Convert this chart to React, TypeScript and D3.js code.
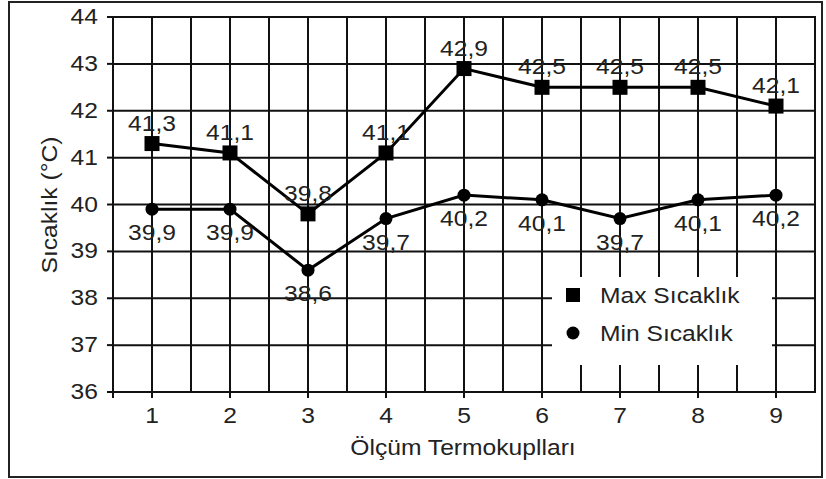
import React, { useRef, useEffect } from "react";
import * as d3 from "d3";

const W = 826;
const H = 479;

const CATEGORIES = [1, 2, 3, 4, 5, 6, 7, 8, 9];
const MAX_TEMP = [41.3, 41.1, 39.8, 41.1, 42.9, 42.5, 42.5, 42.5, 42.1];
const MIN_TEMP = [39.9, 39.9, 38.6, 39.7, 40.2, 40.1, 39.7, 40.1, 40.2];
const Y_TICKS = [36, 37, 38, 39, 40, 41, 42, 43, 44];
const SERIES_NAMES = ["Max Sıcaklık", "Min Sıcaklık"];
const X_TITLE = "Ölçüm Termokuplları";
const Y_TITLE = "Sıcaklık (°C)";

const PLOT = { left: 113, right: 815, top: 17, bottom: 392 };
const FONT = "'Liberation Sans', Arial, sans-serif";
const FS = 22;
const STRETCH = 1.12; // the original text is a bit wide
const INK = "#111";

const fmt = (v: number) => v.toFixed(1).replace(".", ",");

export default function App() {
  const svgRef = useRef<SVGSVGElement | null>(null);

  useEffect(() => {
    if (!svgRef.current) return;
    const svg = d3.select(svgRef.current);
    svg.selectAll("*").remove();

    const x = d3
      .scaleLinear()
      .domain([0.5, 9.5])
      .range([PLOT.left, PLOT.right]);
    const y = d3
      .scaleLinear()
      .domain([36, 44])
      .range([PLOT.bottom, PLOT.top]);

    // wide-ish text helper
    const label = (
      parent: d3.Selection<any, unknown, null, undefined>,
      px: number,
      py: number,
      str: string,
      anchor: string,
      rotate = 0
    ) => {
      parent
        .append("g")
        .attr(
          "transform",
          `translate(${px},${py}) rotate(${rotate}) scale(${STRETCH},1)`
        )
        .append("text")
        .attr("text-anchor", anchor)
        .attr("font-family", FONT)
        .attr("font-size", FS)
        .attr("fill", "#222")
        .text(str);
    };

    svg.append("rect").attr("width", W).attr("height", H).attr("fill", "#fff");

    // outer frame
    svg
      .append("rect")
      .attr("x", 9)
      .attr("y", 2)
      .attr("width", 813)
      .attr("height", 475)
      .attr("fill", "none")
      .attr("stroke", "#222")
      .attr("stroke-width", 2);

    const grid = svg.append("g").attr("stroke", INK).attr("stroke-width", 2);

    // vertical grid every half step
    const vLines = d3.range(1, 9.01, 0.5);
    grid
      .selectAll("line.v")
      .data(vLines)
      .join("line")
      .attr("class", "v")
      .attr("x1", (d) => x(d))
      .attr("x2", (d) => x(d))
      .attr("y1", PLOT.top)
      .attr("y2", PLOT.bottom);

    grid
      .selectAll("line.h")
      .data(Y_TICKS)
      .join("line")
      .attr("class", "h")
      .attr("x1", PLOT.left)
      .attr("x2", PLOT.right)
      .attr("y1", (d) => y(d))
      .attr("y2", (d) => y(d));

    // ticks
    grid
      .selectAll("line.yt")
      .data(Y_TICKS)
      .join("line")
      .attr("class", "yt")
      .attr("x1", PLOT.left - 6)
      .attr("x2", PLOT.left)
      .attr("y1", (d) => y(d))
      .attr("y2", (d) => y(d));

    grid
      .selectAll("line.xt")
      .data([0.5, ...CATEGORIES])
      .join("line")
      .attr("class", "xt")
      .attr("x1", (d) => x(d))
      .attr("x2", (d) => x(d))
      .attr("y1", PLOT.bottom)
      .attr("y2", PLOT.bottom + 6);

    // legend box covers the grid
    const legend = svg.append("g");
    legend
      .append("rect")
      .attr("x", 552)
      .attr("y", 277)
      .attr("width", 220)
      .attr("height", 88)
      .attr("fill", "#fff");

    // plot border
    svg
      .append("rect")
      .attr("x", PLOT.left)
      .attr("y", PLOT.top)
      .attr("width", PLOT.right - PLOT.left)
      .attr("height", PLOT.bottom - PLOT.top)
      .attr("fill", "none")
      .attr("stroke", INK)
      .attr("stroke-width", 2);

    const line = d3
      .line<number>()
      .x((_, i) => x(CATEGORIES[i]))
      .y((d) => y(d));

    [MAX_TEMP, MIN_TEMP].forEach((vals) => {
      svg
        .append("path")
        .datum(vals)
        .attr("fill", "none")
        .attr("stroke", "#000")
        .attr("stroke-width", 3)
        .attr("d", line);
    });

    svg
      .selectAll("rect.pt")
      .data(MAX_TEMP)
      .join("rect")
      .attr("class", "pt")
      .attr("x", (_, i) => x(CATEGORIES[i]) - 7.5)
      .attr("y", (d) => y(d) - 7.5)
      .attr("width", 15)
      .attr("height", 15)
      .attr("fill", "#000");

    svg
      .selectAll("circle.pt")
      .data(MIN_TEMP)
      .join("circle")
      .attr("class", "pt")
      .attr("cx", (_, i) => x(CATEGORIES[i]))
      .attr("cy", (d) => y(d))
      .attr("r", 6.5)
      .attr("fill", "#000");

    // value labels
    MAX_TEMP.forEach((v, i) => label(svg, x(CATEGORIES[i]), y(v) - 13, fmt(v), "middle"));
    MIN_TEMP.forEach((v, i) => label(svg, x(CATEGORIES[i]), y(v) + 31, fmt(v), "middle"));

    // axis labels
    Y_TICKS.forEach((t) => label(svg, 98, y(t) + 7, String(t), "end"));
    CATEGORIES.forEach((c) => label(svg, x(c), 423, String(c), "middle"));

    label(svg, 463, 455, X_TITLE, "middle");
    label(svg, 57, 205, Y_TITLE, "middle", -90);

    // legend entries
    legend
      .append("rect")
      .attr("x", 566)
      .attr("y", 288)
      .attr("width", 14)
      .attr("height", 14)
      .attr("fill", "#000");
    legend
      .append("circle")
      .attr("cx", 573)
      .attr("cy", 333)
      .attr("r", 6.5)
      .attr("fill", "#000");
    label(legend, 600, 303, SERIES_NAMES[0], "start");
    label(legend, 600, 341, SERIES_NAMES[1], "start");
  }, []);

  return (
    <svg
      ref={svgRef}
      width={W}
      height={H}
      style={{ position: "absolute", left: 0, top: 0 }}
    />
  );
}
